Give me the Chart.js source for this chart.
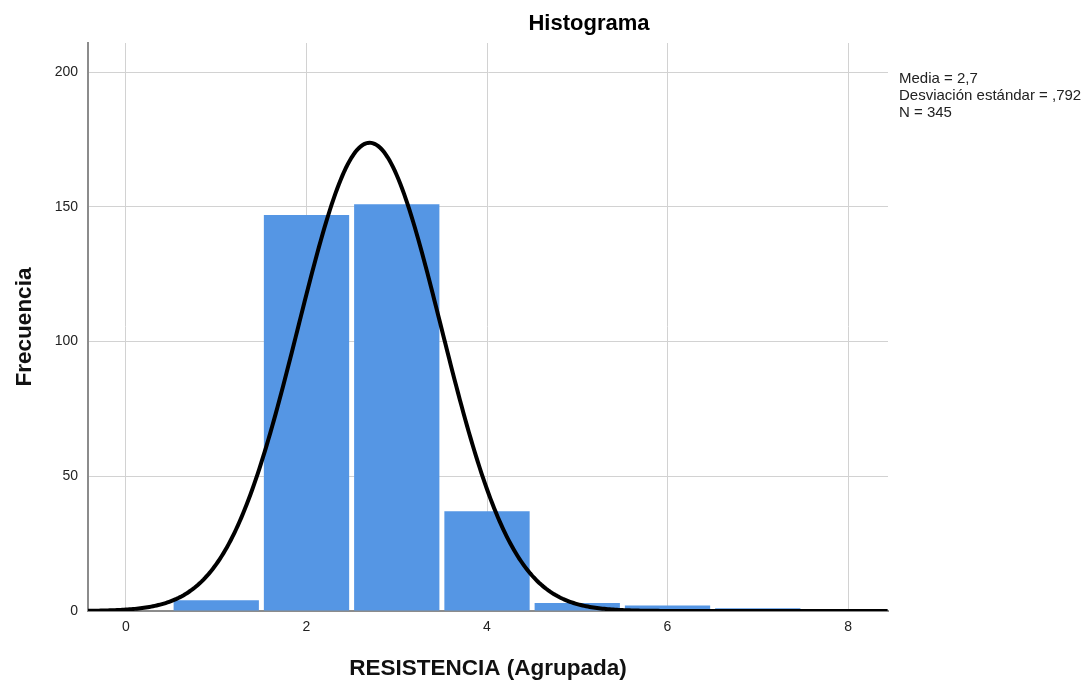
<!DOCTYPE html>
<html>
<head>
<meta charset="utf-8">
<script src="https://cdn.jsdelivr.net/npm/chart.js@4/dist/chart.umd.min.js"></script>
<style>
  html, body { margin: 0; padding: 0; background: #fff; }
  #wrap { width: 1088px; height: 682px; }
</style>
</head>
<body>
<div id="wrap"><canvas id="c" width="1088" height="682"></canvas></div>
<script>
// Grouped RESISTENCIA values: bin centres and their frequencies
const binCenters = [1, 2, 3, 4, 5, 6, 7];
const frequencies = [4, 147, 151, 37, 3, 2, 1];

// Summary statistics shown beside the chart
const mean = 2.7;
const stdDev = 0.792;
const total = 345;
const binWidth = 1;
const statsLines = ['Media = 2,7', 'Desviación estándar = ,792', 'N = 345'];

// Axis ticks and visible ranges
const xTicks = [0, 2, 4, 6, 8];
const yTicks = [0, 50, 100, 150, 200];
const xRange = [-0.421, 8.443];
const yRange = [0, 210.8];

const chartTitle = 'Histograma';
const xTitle = 'RESISTENCIA (Agrupada)';
const yTitle = 'Frecuencia';

// Fitted normal curve, scaled to counts per bin, from the stated mean and deviation
const curve = [];
for (let x = xRange[0]; x <= xRange[1] + 1e-9; x += 0.02) {
  const z = (x - mean) / stdDev;
  const y = total * binWidth / (stdDev * Math.sqrt(2 * Math.PI)) * Math.exp(-0.5 * z * z);
  curve.push({ x: x, y: y });
}

const FONT = '"Liberation Sans", Arial, sans-serif';

// Chart heading and the statistics block on the right
const annotations = {
  id: 'annotations',
  afterDraw(chart) {
    const ctx = chart.ctx;
    ctx.save();
    ctx.fillStyle = '#000';
    ctx.font = 'bold 22px ' + FONT;
    ctx.textAlign = 'center';
    ctx.textBaseline = 'middle';
    ctx.fillText(chartTitle, 589, 24);
    ctx.fillStyle = '#222';
    ctx.font = '15px ' + FONT;
    ctx.textAlign = 'left';
    statsLines.forEach((t, i) => ctx.fillText(t, 899, 79 + i * 17));
    ctx.restore();
  }
};

new Chart(document.getElementById('c'), {
  type: 'bar',
  data: {
    datasets: [
      {
        type: 'line',
        data: curve,
        borderColor: '#000',
        borderWidth: 4,
        pointRadius: 0,
        tension: 0,
        fill: false,
        order: 0
      },
      {
        type: 'bar',
        data: binCenters.map((c, i) => ({ x: c, y: frequencies[i] })),
        backgroundColor: '#5596e4',
        borderWidth: 0,
        barPercentage: 0.945,
        categoryPercentage: 1,
        order: 1
      }
    ]
  },
  options: {
    responsive: false,
    animation: false,
    devicePixelRatio: 1,
    layout: { padding: { top: 43, right: 200, left: 0, bottom: 0 } },
    plugins: { legend: { display: false }, tooltip: { enabled: false } },
    scales: {
      x: {
        type: 'linear',
        min: xRange[0],
        max: xRange[1],
        offset: false,
        afterBuildTicks: s => { s.ticks = xTicks.map(v => ({ value: v })); },
        afterFit: s => { s.height = 71; },
        grid: { color: '#d2d2d2', lineWidth: 1, drawTicks: false, offset: false },
        border: { color: '#8c8c8c', width: 2 },
        ticks: { color: '#222', font: { family: FONT, size: 14 }, padding: 8, maxRotation: 0 },
        title: { display: true, text: xTitle, color: '#111', font: { family: FONT, size: 22.5, weight: 'bold' }, padding: { top: 0, bottom: 0 } }
      },
      y: {
        type: 'linear',
        min: yRange[0],
        max: yRange[1],
        afterBuildTicks: s => { s.ticks = yTicks.map(v => ({ value: v })); },
        afterFit: s => { s.width = 88; },
        grid: { color: '#d2d2d2', lineWidth: 1, drawTicks: false },
        border: { color: '#8c8c8c', width: 2 },
        ticks: { color: '#222', font: { family: FONT, size: 14 }, padding: 10 },
        title: { display: true, text: yTitle, color: '#111', font: { family: FONT, size: 22.5, weight: 'bold' }, padding: { top: 11, bottom: 0 } }
      }
    }
  },
  plugins: [annotations]
});
</script>
</body>
</html>
